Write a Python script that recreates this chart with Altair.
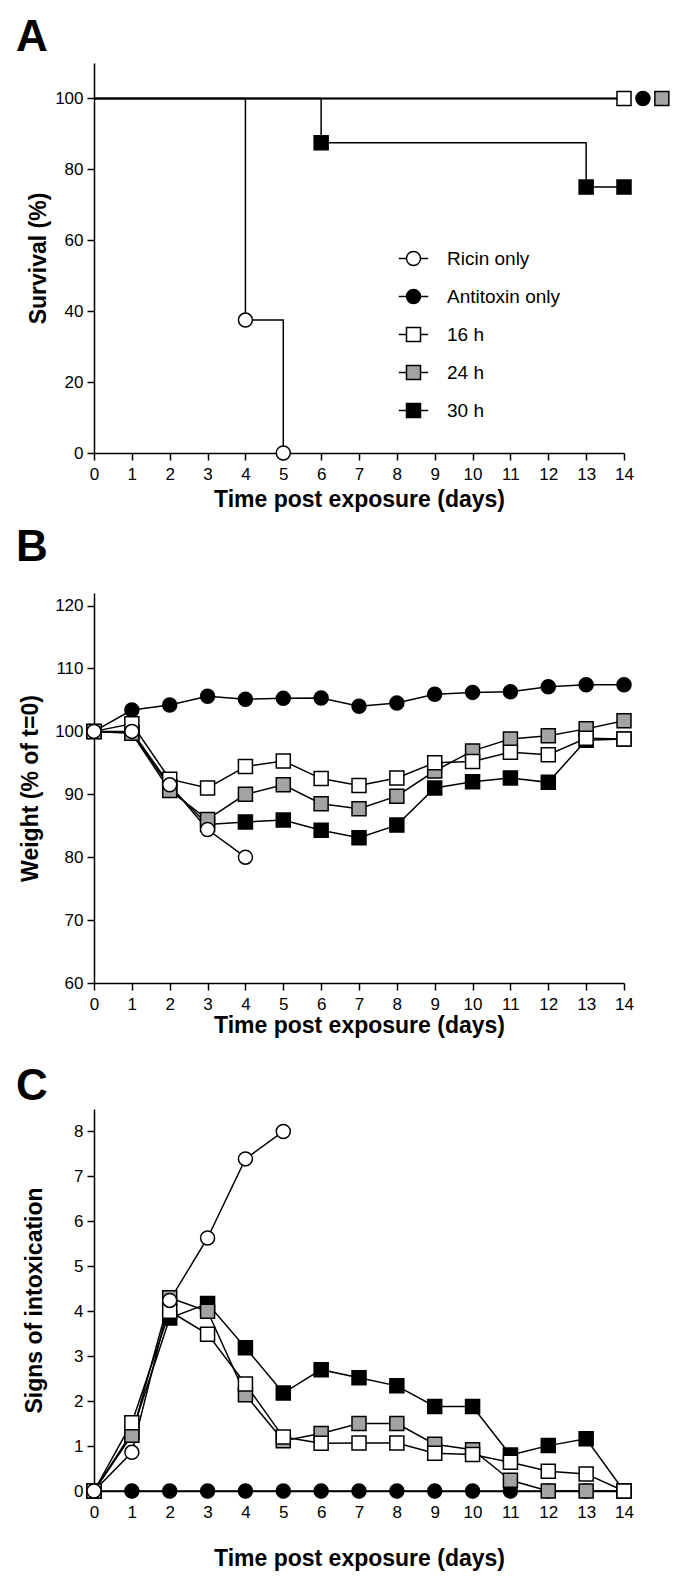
import altair as alt
import pandas as pd

FONT = "Liberation Sans"

# ---------------- series definitions ----------------
SERIES = ["Ricin only", "Antitoxin only", "16 h", "24 h", "30 h"]
SHAPES = ["circle", "circle", "square", "square", "square"]
FILLS = ["white", "black", "white", "#a3a3a3", "black"]
STROKES = ["black", "black", "black", "black", "black"]
CIRC_LEG = "M-2.1,0L-1,0M1,0L2.1,0M-1,0A1,1,0,1,1,1,0A1,1,0,1,1,-1,0Z"
SQ_LEG = "M-2.1,0L-1,0M1,0L2.1,0M-1,-1L1,-1L1,1L-1,1Z"
LEGEND_SHAPES = [CIRC_LEG, CIRC_LEG, SQ_LEG, SQ_LEG, SQ_LEG]
Z_ORDER = ["Antitoxin only", "30 h", "24 h", "16 h", "Ricin only"]

DAYS = [0, 1, 2, 3, 4, 5, 6, 7, 8, 9, 10, 11, 12, 13, 14]

# ---------------- Panel A: survival (%) ----------------
A_ricin_day = [0, 4, 5]
A_ricin = [100, 37.5, 0]
A_antitoxin_day = [0, 14]
A_antitoxin = [100, 100]
A_16h_day = [0, 14]
A_16h = [100, 100]
A_24h_day = [0, 14]
A_24h = [100, 100]
A_30h_day = [0, 6, 13, 14]
A_30h = [100, 87.5, 75, 75]

# symbols drawn on the survival curves
A_mk_ricin_day = [4, 5]
A_mk_ricin = [37.5, 0]
A_mk_antitoxin_day = [14.5]
A_mk_antitoxin = [100]
A_mk_16h_day = [14]
A_mk_16h = [100]
A_mk_24h_day = [15]
A_mk_24h = [100]
A_mk_30h_day = [6, 13, 14]
A_mk_30h = [87.5, 75, 75]

# ---------------- Panel B: weight (% of t=0) ----------------
B_ricin_day = [0, 1, 2, 3, 4]
B_ricin = [100, 100, 91.5, 84.4, 80.0]
B_antitoxin = [100, 103.4, 104.2, 105.6, 105.1, 105.25, 105.3, 104.0, 104.5, 105.9, 106.2, 106.3, 107.1, 107.4, 107.4]
B_16h = [100, 101.2, 92.4, 91.0, 94.4, 95.3, 92.5, 91.4, 92.6, 95.0, 95.2, 96.7, 96.3, 98.9, 98.8]
B_24h = [100, 99.7, 90.6, 86.0, 90.0, 91.5, 88.5, 87.7, 89.7, 93.7, 96.9, 98.8, 99.3, 100.4, 101.7]
B_30h = [100, 99.8, 91.2, 85.2, 85.6, 85.9, 84.3, 83.1, 85.1, 91.0, 92.0, 92.6, 91.9, 98.6, 98.8]

# ---------------- Panel C: signs of intoxication ----------------
C_ricin_day = [0, 1, 2, 3, 4, 5]
C_ricin = [0, 0.86, 4.24, 5.63, 7.39, 8.0]
C_antitoxin = [0, 0, 0, 0, 0, 0, 0, 0, 0, 0, 0, 0, 0, 0, 0]
C_16h = [0, 1.52, 4.0, 3.49, 2.38, 1.2, 1.06, 1.07, 1.07, 0.84, 0.81, 0.64, 0.44, 0.38, 0]
C_24h = [0, 1.24, 4.3, 4.0, 2.14, 1.12, 1.28, 1.5, 1.5, 1.04, 0.92, 0.24, 0, 0, 0]
C_30h = [0, 1.3, 3.85, 4.17, 3.19, 2.18, 2.7, 2.52, 2.34, 1.88, 1.88, 0.8, 1.01, 1.16, 0]


def long(items):
    rows = []
    for s, d, v in items:
        for di, vi in zip(d, v):
            rows.append({"series": s, "day": di, "value": vi, "z": Z_ORDER.index(s)})
    df = pd.DataFrame(rows)
    return df.sort_values(["z", "day"], kind="stable").reset_index(drop=True)


dfA_lines = long([
    ("Ricin only", A_ricin_day, A_ricin),
    ("Antitoxin only", A_antitoxin_day, A_antitoxin),
    ("16 h", A_16h_day, A_16h),
    ("24 h", A_24h_day, A_24h),
    ("30 h", A_30h_day, A_30h),
])
dfA_pts = long([
    ("Ricin only", A_mk_ricin_day, A_mk_ricin),
    ("Antitoxin only", A_mk_antitoxin_day, A_mk_antitoxin),
    ("16 h", A_mk_16h_day, A_mk_16h),
    ("24 h", A_mk_24h_day, A_mk_24h),
    ("30 h", A_mk_30h_day, A_mk_30h),
])
dfB = long([
    ("Ricin only", B_ricin_day, B_ricin),
    ("Antitoxin only", DAYS, B_antitoxin),
    ("16 h", DAYS, B_16h),
    ("24 h", DAYS, B_24h),
    ("30 h", DAYS, B_30h),
])
dfC = long([
    ("Ricin only", C_ricin_day, C_ricin),
    ("Antitoxin only", DAYS, C_antitoxin),
    ("16 h", DAYS, C_16h),
    ("24 h", DAYS, C_24h),
    ("30 h", DAYS, C_30h),
])

W = 530


def x_enc(tp):
    return alt.X(
        "day:Q",
        scale=alt.Scale(domain=[0, 14], nice=False, zero=False),
        axis=alt.Axis(values=DAYS, title="Time post exposure (days)", format="d",
                      labelFlush=False, labelOverlap=False, tickSize=7,
                      labelPadding=6, titlePadding=tp),
    )


def y_enc(domain, ticks, title, tp):
    return alt.Y(
        "value:Q",
        scale=alt.Scale(domain=domain, nice=False, zero=False),
        axis=alt.Axis(values=ticks, title=title, format="d", labelFlush=False,
                      labelOverlap=False, tickSize=7, labelPadding=4,
                      minExtent=42, maxExtent=42, titlePadding=tp),
    )


def panel_title(letter, offset):
    return alt.TitleParams(letter, anchor="start", frame="group", dx=-78, offset=offset,
                           font=FONT, fontSize=44, fontWeight="bold", color="black")


def line_layer(df, xenc, yenc, step=False):
    kw = dict(color="black", strokeWidth=1.5)
    if step:
        kw["interpolate"] = "step-after"
    return alt.Chart(df).mark_line(**kw).encode(x=xenc, y=yenc, detail="series:N")


def point_layers(df, xenc, yenc):
    layers = []
    for s in Z_ORDER:
        i = SERIES.index(s)
        sub = df[df["series"] == s]
        if len(sub) == 0:
            continue
        layers.append(
            alt.Chart(sub).mark_point(
                filled=True, size=196, stroke="black", strokeWidth=1.5, opacity=1,
                shape=SHAPES[i], fill=FILLS[i],
            ).encode(x=xenc, y=yenc)
        )
    return layers


# ---- Panel A ----
xA = x_enc(6)
yA = y_enc([0, 110], [0, 20, 40, 60, 80, 100], "Survival (%)", 2)
legend = alt.Legend(
    title=None, orient="none", legendX=310, legendY=186, padding=0,
    labelFont=FONT, labelFontSize=19, labelColor="black", labelOffset=24,
    symbolSize=196, symbolStrokeWidth=1.5, rowPadding=17, symbolOpacity=1,
)
legend_layer = (
    alt.Chart(dfA_pts)
    .transform_filter("datum.day < 0")
    .mark_point(filled=True, size=196, strokeWidth=1.5, opacity=1)
    .encode(
        x=xA, y=yA,
        shape=alt.Shape("series:N", scale=alt.Scale(domain=SERIES, range=LEGEND_SHAPES), legend=legend),
        fill=alt.Fill("series:N", scale=alt.Scale(domain=SERIES, range=FILLS), legend=legend),
        stroke=alt.Stroke("series:N", scale=alt.Scale(domain=SERIES, range=STROKES), legend=legend),
    )
)
panelA = alt.layer(
    line_layer(dfA_lines, xA, yA, step=True), *point_layers(dfA_pts, xA, yA), legend_layer
).properties(width=W, height=390, title=panel_title("A", 3))

# ---- Panel B ----
xB = x_enc(2)
yB = y_enc([60, 122], [60, 70, 80, 90, 100, 110, 120], "Weight (% of t=0)", 10)
panelB = alt.layer(line_layer(dfB, xB, yB), *point_layers(dfB, xB, yB)).properties(
    width=W, height=390, title=panel_title("B", 23)
)

# ---- Panel C ----
xC = x_enc(27)
yC = y_enc([0, 8.5], [0, 1, 2, 3, 4, 5, 6, 7, 8], "Signs of intoxication", 6)
panelC = alt.layer(line_layer(dfC, xC, yC), *point_layers(dfC, xC, yC)).properties(
    width=W, height=382, title=panel_title("C", 0)
)

chart = (
    alt.vconcat(panelA, alt.vconcat(panelB, panelC, spacing=28), spacing=15)
    .properties(padding={"left": 8, "top": 8, "right": 5, "bottom": 3})
    .configure_axis(
        domainColor="black", domainWidth=1.5, tickColor="black", tickWidth=1.5,
        labelColor="black", titleColor="black", labelFont=FONT, titleFont=FONT,
        labelFontSize=17, titleFontSize=23, titleFontWeight="bold", grid=False,
    )
    .configure_view(stroke=None)
)

chart.save("out.html", embed_options={"renderer": "svg", "actions": False})
